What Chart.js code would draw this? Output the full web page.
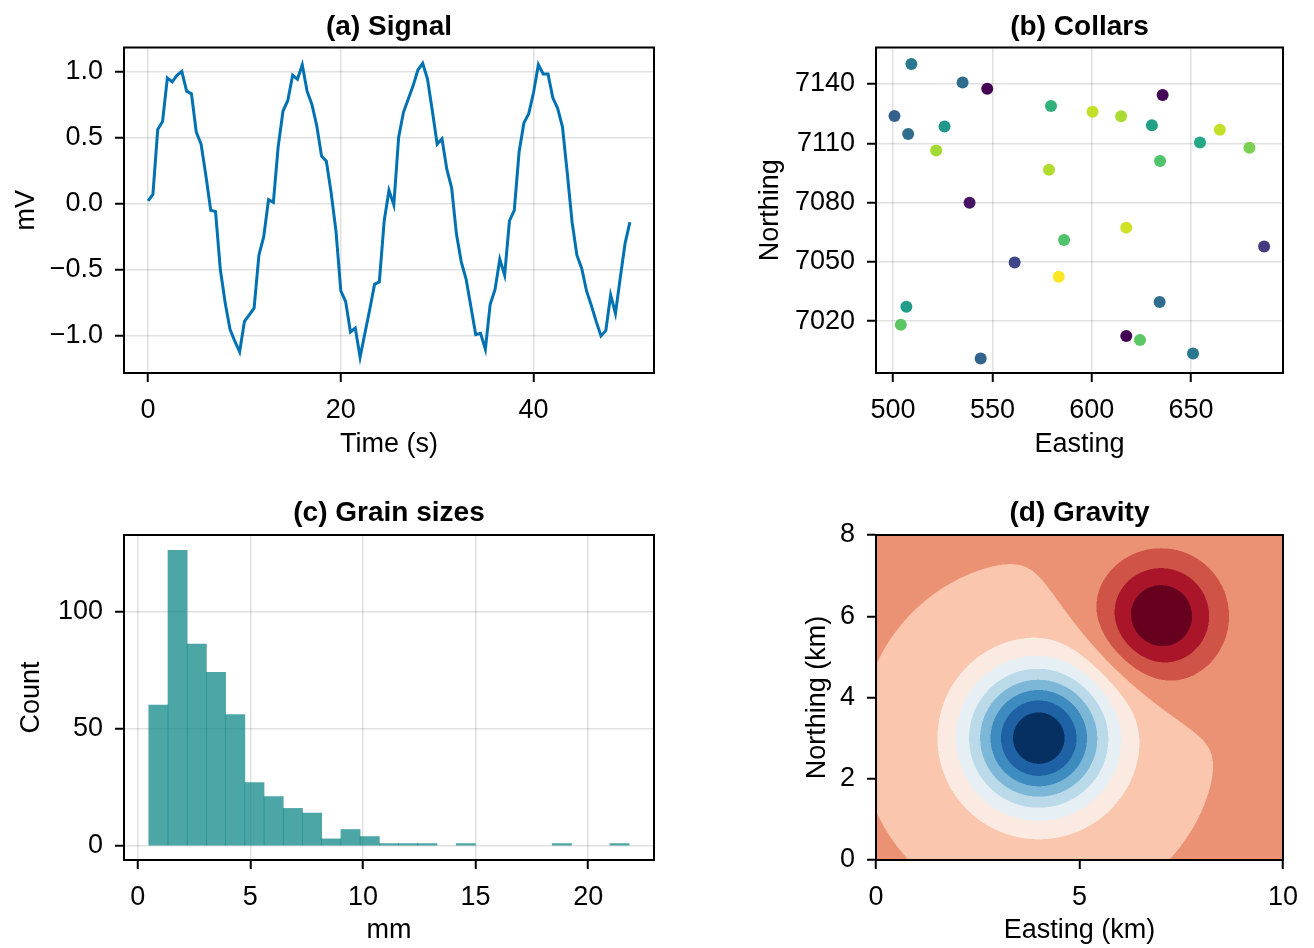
<!DOCTYPE html>
<html>
<head>
<meta charset="utf-8">
<script src="https://cdn.jsdelivr.net/npm/chart.js@4.4.1/dist/chart.umd.min.js"></script>
<style>
  body { margin: 0; background: #fff; }
  #wrap { position: relative; width: 1314px; height: 948px; background: #fff; }
  canvas { position: absolute; }
</style>
</head>
<body>
<div id="wrap">
  <canvas id="cA" width="660" height="470" style="left:0;top:0"></canvas>
  <canvas id="cB" width="654" height="470" style="left:660px;top:0"></canvas>
  <canvas id="cC" width="660" height="478" style="left:0;top:470px"></canvas>
  <canvas id="cD" width="654" height="478" style="left:660px;top:470px"></canvas>
</div>
<script>
//---------------- DATA ----------------
// (a) signal, sampled every 0.5 s from 0 to 50 s
const timeStep = 0.5;
const signal = [
  0.02, 0.07, 0.56, 0.62, 0.95, 0.92, 0.97, 1.00, 0.85, 0.83,
  0.54, 0.45, 0.21, -0.05, -0.06, -0.50, -0.75, -0.95, -1.04, -1.12,
  -0.89, -0.84, -0.79, -0.39, -0.25, 0.03, 0.01, 0.43, 0.70, 0.78,
  0.97, 0.94, 1.05, 0.85, 0.75, 0.59, 0.36, 0.32, 0.08, -0.21,
  -0.66, -0.74, -0.97, -0.94, -1.16, -0.98, -0.80, -0.61, -0.59, -0.13,
  0.10, -0.01, 0.50, 0.69, 0.79, 0.89, 1.01, 1.06, 0.94, 0.70,
  0.45, 0.49, 0.26, 0.12, -0.23, -0.44, -0.57, -0.78, -0.99, -0.98,
  -1.10, -0.76, -0.65, -0.42, -0.54, -0.13, -0.05, 0.39, 0.61, 0.68,
  0.84, 1.05, 0.98, 0.98, 0.80, 0.72, 0.58, 0.23, -0.14, -0.39,
  -0.49, -0.66, -0.77, -0.89, -1.00, -0.96, -0.69, -0.83, -0.56, -0.30,
  -0.14
];
const xTicksA = [0, 20, 40];
const yTicksA = [-1, -0.5, 0, 0.5, 1];
const yLabelsA = ["\u22121.0", "\u22120.5", "0.0", "0.5", "1.0"];

// (b) drill collars
const easting = [509.2, 535.0, 547.4, 500.7, 507.6, 525.9, 521.7, 579.5, 600.4, 614.8,
  635.7, 630.3, 664.5, 654.5, 679.4, 634.4, 578.5, 538.5, 617.4, 586.1,
  686.8, 561.2, 583.4, 634.2, 506.7, 503.9, 617.4, 624.3, 651.0, 544.1];
const northing = [7150.1, 7140.8, 7137.6, 7123.8, 7114.7, 7118.5, 7106.3, 7128.9, 7126.0, 7123.7,
  7134.4, 7119.1, 7116.9, 7110.4, 7107.7, 7101.0, 7096.6, 7079.9, 7067.3, 7061.0,
  7057.7, 7049.6, 7042.4, 7029.6, 7027.2, 7018.1, 7012.4, 7010.4, 7003.6, 7001.1];
const collarValue = [0.40, 0.35, 0.00, 0.30, 0.35, 0.52, 0.86, 0.64, 0.91, 0.87,
  0.01, 0.56, 0.91, 0.60, 0.80, 0.72, 0.88, 0.05, 0.93, 0.72,
  0.17, 0.21, 1.00, 0.35, 0.55, 0.74, 0.00, 0.74, 0.40, 0.32];
const xTicksB = [500, 550, 600, 650];
const yTicksB = [7020, 7050, 7080, 7110, 7140];

// (c) grain size histogram, 25 bins
const binStart = 0.49;
const binWidth = 0.853;
const grainCounts = [60, 126, 86, 74, 56, 27, 21, 16, 14, 3, 7, 4, 1, 1, 1, 0, 1, 0, 0, 0, 0, 1, 0, 0, 1];
const xTicksC = [0, 5, 10, 15, 20];
const yTicksC = [0, 50, 100];

// (d) gravity: two anomaly sources and contour levels
const anomalyX = [7, 4];
const anomalyY = [6, 3];
const anomalyAmp = [1, -2];
const anomalySpread = [2, 3];
const gravLevels = [-1.9999, -1.7503, -1.5007, -1.2512, -1.0016, -0.7520, -0.5024,
  -0.2528, -0.0033, 0.2463, 0.4959, 0.7455, 0.9950];
const xTicksD = [0, 5, 10];
const yTicksD = [0, 2, 4, 6, 8];

//---------------- STYLE ----------------
const FONT = '"Liberation Sans", Arial, Helvetica, sans-serif';
const viridis = ["#440154", "#482475", "#414487", "#355f8d", "#2a788e", "#21918c",
  "#22a884", "#44bf70", "#7ad151", "#bddf26", "#fde725"];
const rdbuBands = ["#053061", "#1e61a5", "#3d8bbf", "#7db7d7", "#badae9", "#e6eff4",
  "#faeae1", "#fac7ae", "#ec9274", "#cf5347", "#ab1529", "#67001f"];

function hexRgb(h) {
  return [parseInt(h.slice(1, 3), 16), parseInt(h.slice(3, 5), 16), parseInt(h.slice(5, 7), 16)];
}
function viridisColor(t) {
  let p = Math.max(0, Math.min(1, t)) * (viridis.length - 1);
  let i = Math.min(Math.floor(p), viridis.length - 2), f = p - i;
  let a = hexRgb(viridis[i]), b = hexRgb(viridis[i + 1]);
  return "rgb(" + a.map((v, k) => Math.round(v + (b[k] - v) * f)).join(",") + ")";
}

function axis(o) {
  return {
    type: "linear",
    position: o.pos,
    min: o.min,
    max: o.max,
    offset: false,
    afterBuildTicks: s => { s.ticks = o.ticks.map(v => ({ value: v })); },
    afterFit: s => { if (o.pos === "left") s.width = o.size; else s.height = o.size; },
    ticks: {
      font: { family: FONT, size: 27 },
      color: "#000",
      padding: 12,
      maxRotation: 0,
      autoSkip: false,
      callback: v => o.labels ? o.labels[o.ticks.indexOf(v)] : String(v)
    },
    grid: { color: "rgba(0,0,0,0.12)", lineWidth: 1.5, tickColor: "#000", tickLength: 9, tickWidth: 2, offset: false },
    border: { display: true, color: "#000", width: 2 },
    title: { display: true, text: o.title, font: { family: FONT, size: 27 }, color: "#000", padding: o.tpad }
  };
}

function opts(title, tpad, padRight, xs, ys) {
  return {
    responsive: false,
    animation: false,
    devicePixelRatio: 1,
    layout: { padding: { left: 0, right: padRight, top: 0, bottom: 0 } },
    plugins: {
      legend: { display: false },
      tooltip: { enabled: false },
      title: { display: true, text: title, fullSize: false, color: "#000",
        font: { family: FONT, size: 28, weight: "bold" }, padding: tpad }
    },
    scales: { x: axis(xs), y: axis(ys) }
  };
}

const framePlugin = {
  id: "frame",
  afterDraw(chart) {
    const { ctx, chartArea: a } = chart;
    ctx.save();
    ctx.strokeStyle = "#000";
    ctx.lineWidth = 2;
    ctx.strokeRect(a.left, a.top, a.right - a.left, a.bottom - a.top);
    ctx.restore();
  }
};

//---------------- (a) SIGNAL ----------------
new Chart(document.getElementById("cA"), {
  type: "line",
  data: {
    datasets: [{
      data: signal.map((v, i) => ({ x: i * timeStep, y: v })),
      borderColor: "#0072b2",
      borderWidth: 3,
      pointRadius: 0,
      tension: 0,
      fill: false
    }]
  },
  options: opts("(a) Signal", { top: 10.5, bottom: 3.4 }, 6,
    { pos: "bottom", min: -2.5, max: 52.5, ticks: xTicksA, size: 97, title: "Time (s)", tpad: { top: 0, bottom: 9 } },
    { pos: "left", min: -1.28, max: 1.18, ticks: yTicksA, labels: yLabelsA, size: 124, title: "mV", tpad: { top: 10, bottom: 0 } }),
  plugins: [framePlugin]
});

//---------------- (b) COLLARS ----------------
new Chart(document.getElementById("cB"), {
  type: "scatter",
  data: {
    datasets: [{
      data: easting.map((e, i) => ({ x: e, y: northing[i] })),
      backgroundColor: collarValue.map(viridisColor),
      borderWidth: 0,
      pointRadius: 6
    }]
  },
  options: opts("(b) Collars", { top: 10.5, bottom: 3.4 }, 31,
    { pos: "bottom", min: 491.4, max: 696.3, ticks: xTicksB, size: 97, title: "Easting", tpad: { top: 0, bottom: 9 } },
    { pos: "left", min: 6993.7, max: 7158.5, ticks: yTicksB, size: 216, title: "Northing", tpad: { top: 94, bottom: 0 } }),
  plugins: [framePlugin]
});

//---------------- (c) GRAIN SIZES ----------------
new Chart(document.getElementById("cC"), {
  type: "bar",
  data: {
    datasets: [{
      data: grainCounts.map((c, i) => ({ x: binStart + binWidth * (i + 0.5), y: c > 0 ? c : null })),
      backgroundColor: "rgba(0,128,128,0.7)",
      borderWidth: 0,
      barPercentage: 1,
      categoryPercentage: 1,
      grouped: false
    }]
  },
  options: opts("(c) Grain sizes", { top: 26, bottom: 5.4 }, 6,
    { pos: "bottom", min: -0.61, max: 22.92, ticks: xTicksC, size: 88, title: "mm", tpad: { top: 0, bottom: 1 } },
    { pos: "left", min: -6, max: 132.5, ticks: yTicksC, size: 124, title: "Count", tpad: { top: 15, bottom: 0 } }),
  plugins: [framePlugin]
});

//---------------- (d) GRAVITY ----------------
function gravity(x, y) {
  let g = 0;
  for (let k = 0; k < anomalyX.length; k++) {
    const r2 = (x - anomalyX[k]) ** 2 + (y - anomalyY[k]) ** 2;
    g += anomalyAmp[k] * Math.exp(-r2 / anomalySpread[k]);
  }
  return g;
}

const contourPlugin = {
  id: "contour",
  beforeDatasetsDraw(chart) {
    const { ctx, chartArea: a, scales: { x, y } } = chart;
    const ss = 2;
    const w = Math.round(a.right - a.left), h = Math.round(a.bottom - a.top);
    const off = document.createElement("canvas");
    off.width = w * ss; off.height = h * ss;
    const octx = off.getContext("2d");
    const img = octx.createImageData(w * ss, h * ss);
    const cols = rdbuBands.map(hexRgb);
    for (let j = 0; j < h * ss; j++) {
      const yv = y.getValueForPixel(a.top + (j + 0.5) / ss);
      for (let i = 0; i < w * ss; i++) {
        const xv = x.getValueForPixel(a.left + (i + 0.5) / ss);
        const g = gravity(xv, yv);
        let band = 0;
        while (band < cols.length - 1 && g >= gravLevels[band + 1]) band++;
        const c = cols[band], p = (j * w * ss + i) * 4;
        img.data[p] = c[0]; img.data[p + 1] = c[1]; img.data[p + 2] = c[2]; img.data[p + 3] = 255;
      }
    }
    octx.putImageData(img, 0, 0);
    ctx.save();
    ctx.imageSmoothingEnabled = true;
    ctx.imageSmoothingQuality = "high";
    ctx.drawImage(off, a.left, a.top, w, h);
    ctx.restore();
  }
};

new Chart(document.getElementById("cD"), {
  type: "scatter",
  data: { datasets: [] },
  options: opts("(d) Gravity", { top: 26, bottom: 5.4 }, 31,
    { pos: "bottom", min: 0, max: 10, ticks: xTicksD, size: 88, title: "Easting (km)", tpad: { top: 0, bottom: 1 } },
    { pos: "left", min: 0, max: 8, ticks: yTicksD, size: 216, title: "Northing (km)", tpad: { top: 141, bottom: 0 } }),
  plugins: [contourPlugin, framePlugin]
});
</script>
</body>
</html>
